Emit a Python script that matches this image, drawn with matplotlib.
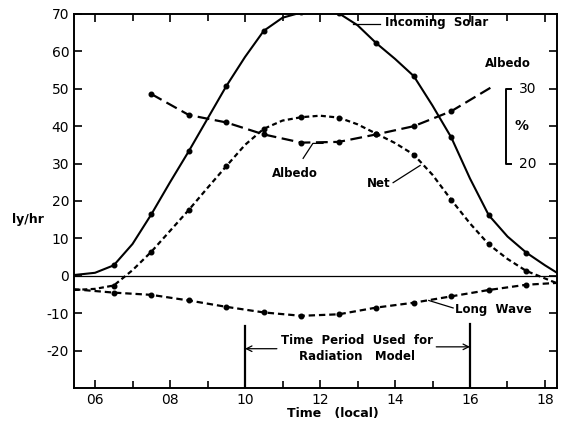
import matplotlib
matplotlib.use("Agg")
import matplotlib.pyplot as plt
import matplotlib.transforms as mtransforms

plt.rcParams['font.family'] = ['DejaVu Sans']
plt.rcParams['lines.scale_dashes'] = False
plt.rcParams['axes.unicode_minus'] = False

# marker times (local hour) and values
hours = [6.5, 7.5, 8.5, 9.5, 10.5, 11.5, 12.5, 13.5, 14.5, 15.5, 16.5, 17.5]
solar = [2.8, 16.4, 33.3, 50.7, 65.5, 70.4, 70.2, 62.2, 53.4, 37.0, 16.2, 6.2]
net = [-2.6, 6.4, 17.6, 29.3, 39.3, 42.4, 42.3, 38.0, 32.4, 20.3, 8.4, 1.3]
long_wave = [-4.5, -5.1, -6.6, -8.3, -9.8, -10.7, -10.3, -8.5, -7.2, -5.5, -3.8, -2.4]

albedo_hours = [7.5, 8.5, 9.5, 10.5, 11.5, 12.5, 13.5, 14.5, 15.5]
albedo = [29.3, 26.5, 25.5, 23.9, 22.8, 22.9, 23.9, 25.0, 27.0]  # percent

# curves as drawn (hourly readings incl. the ends)
solar_t = [5.44, 6.0, 6.5, 7.0, 7.5, 8.0, 8.5, 9.0, 9.5, 10.0, 10.5, 11.0, 11.5, 12.0,
           12.5, 13.0, 13.5, 14.0, 14.5, 15.0, 15.5, 16.0, 16.5, 17.0, 17.5, 18.0, 18.32]
solar_v = [0.2, 0.8, 2.8, 8.5, 16.4, 25.0, 33.3, 42.0, 50.7, 58.5, 65.5, 69.0, 70.4, 70.8,
           70.2, 67.0, 62.2, 58.0, 53.4, 45.5, 37.0, 26.0, 16.2, 10.5, 6.2, 2.8, 0.8]
net_t = [5.44, 6.0, 6.5, 7.0, 7.5, 8.0, 8.5, 9.0, 9.5, 10.0, 10.5, 11.0, 11.5, 12.0,
         12.5, 13.0, 13.5, 14.0, 14.5, 15.0, 15.5, 16.0, 16.5, 17.0, 17.5, 18.32]
net_v = [-3.8, -3.5, -2.6, 1.5, 6.4, 12.0, 17.6, 23.5, 29.3, 35.0, 39.3, 41.5, 42.4, 42.8,
         42.3, 40.5, 38.0, 35.5, 32.4, 27.0, 20.3, 14.0, 8.4, 4.5, 1.3, -2.0]
lw_t = [5.44] + hours + [18.32]
lw_v = [-3.6] + long_wave + [-1.9]
albedo_t = albedo_hours + [16.6]
albedo_v = albedo + [30.3]

albedo_scale = [20, 30]
yticks = [-20, -10, 0, 10, 20, 30, 40, 50, 60, 70]
xticks = [6, 8, 10, 12, 14, 16, 18]
xlabels = ['06', '08', '10', '12', '14', '16', '18']
model_period = [10, 16]

fig = plt.figure(figsize=(5.62, 4.25), dpi=100)
ax = fig.add_axes([0.1317, 0.0871, 0.8594, 0.88])
ax2 = ax.twinx()

ax.set_xlim(5.44, 18.32)
ax.set_ylim(-30, 70)
ax2.set_ylim(-10, 40)
ax2.set_position(ax.get_position())
ax2.axis('off')

k = 'black'
ax.axhline(0, color=k, lw=0.9)

ax.plot(solar_t, solar_v, color=k, lw=1.5)
ax.plot(hours, solar, 'o', color=k, ms=3.3)

ax.plot(net_t, net_v, color=k, lw=1.6, dashes=(3.6, 2.4))
ax.plot(hours, net, 'o', color=k, ms=3.3)

ax.plot(lw_t, lw_v, color=k, lw=1.6, dashes=(4.6, 2.8))
ax.plot(hours, long_wave, 'o', color=k, ms=3.3)

ax2.plot(albedo_t, albedo_v, color=k, lw=1.6, dashes=(8.5, 4.0))
ax2.plot(albedo_hours, albedo, 'o', color=k, ms=3.3)

# albedo percent bracket
ax2.plot([17.09, 16.96, 16.96, 17.09], [albedo_scale[1], albedo_scale[1], albedo_scale[0], albedo_scale[0]],
         color=k, lw=1.4)
ax2.text(17.55, albedo_scale[1], str(albedo_scale[1]), ha='center', va='center', fontsize=10)
ax2.text(17.55, albedo_scale[0], str(albedo_scale[0]), ha='center', va='center', fontsize=10)
ax2.text(17.38, sum(albedo_scale) / 2, '%', ha='center', va='center', fontsize=10, fontweight='bold')

# labels with leaders
fs = 8.5
fw = 'bold'
ax.plot([12.88, 13.6], [67.3, 67.3], color=k, lw=0.9)
ax.text(13.73, 67.8, 'Incoming  Solar', ha='left', va='center', fontsize=fs, fontweight=fw)
ax.text(17.01, 56.8, 'Albedo', ha='center', va='center', fontsize=fs, fontweight=fw)
ax.plot([11.55, 11.81, 12.08], [31.4, 35.4, 35.4], color=k, lw=0.9)
ax.text(11.32, 27.3, 'Albedo', ha='center', va='center', fontsize=fs, fontweight=fw)
ax.plot([13.95, 14.67], [24.9, 29.5], color=k, lw=0.9)
ax.text(13.56, 24.7, 'Net', ha='center', va='center', fontsize=fs, fontweight=fw)
ax.plot([14.9, 15.55], [-6.6, -8.6], color=k, lw=0.9)
ax.text(15.6, -9.1, 'Long  Wave', ha='left', va='center', fontsize=fs, fontweight=fw)

# time period used for the model
ax.plot([model_period[0], model_period[0]], [-30, -13.3], color=k, lw=1.6)
ax.plot([model_period[1], model_period[1]], [-30, -12.8], color=k, lw=1.6)
ax.annotate('', xy=(model_period[0], -19.5), xytext=(10.85, -19.5),
            arrowprops=dict(arrowstyle='->', color=k, lw=0.9, shrinkA=0, shrinkB=0))
ax.annotate('', xy=(model_period[1], -19.0), xytext=(15.1, -19.0),
            arrowprops=dict(arrowstyle='->', color=k, lw=0.9, shrinkA=0, shrinkB=0))
ax.text(12.98, -17.4, 'Time  Period  Used  for', ha='center', va='center', fontsize=fs, fontweight=fw)
ax.text(12.98, -21.5, 'Radiation   Model', ha='center', va='center', fontsize=fs, fontweight=fw)

# axes styling
ax.set_yticks(yticks)
ax.set_xticks(xticks)
ax.set_xticklabels(xlabels)
ax.set_xticks(range(6, 19), minor=True)
ax.tick_params(which='both', direction='in', top=True, right=True, labelsize=10, width=1.2)
ax.tick_params(which='major', length=6)
ax.tick_params(which='minor', length=5)
for s in ax.spines.values():
    s.set_linewidth(1.4)

ax.set_xlabel('Time   (local)', fontsize=9, fontweight=fw)
ax.xaxis.set_label_coords(0.536, -0.052)
ax.text(-0.095, 15, 'ly/hr', transform=mtransforms.blended_transform_factory(ax.transAxes, ax.transData),
        ha='center', va='center', fontsize=9, fontweight=fw)

fig.savefig('out.png', dpi=100)
